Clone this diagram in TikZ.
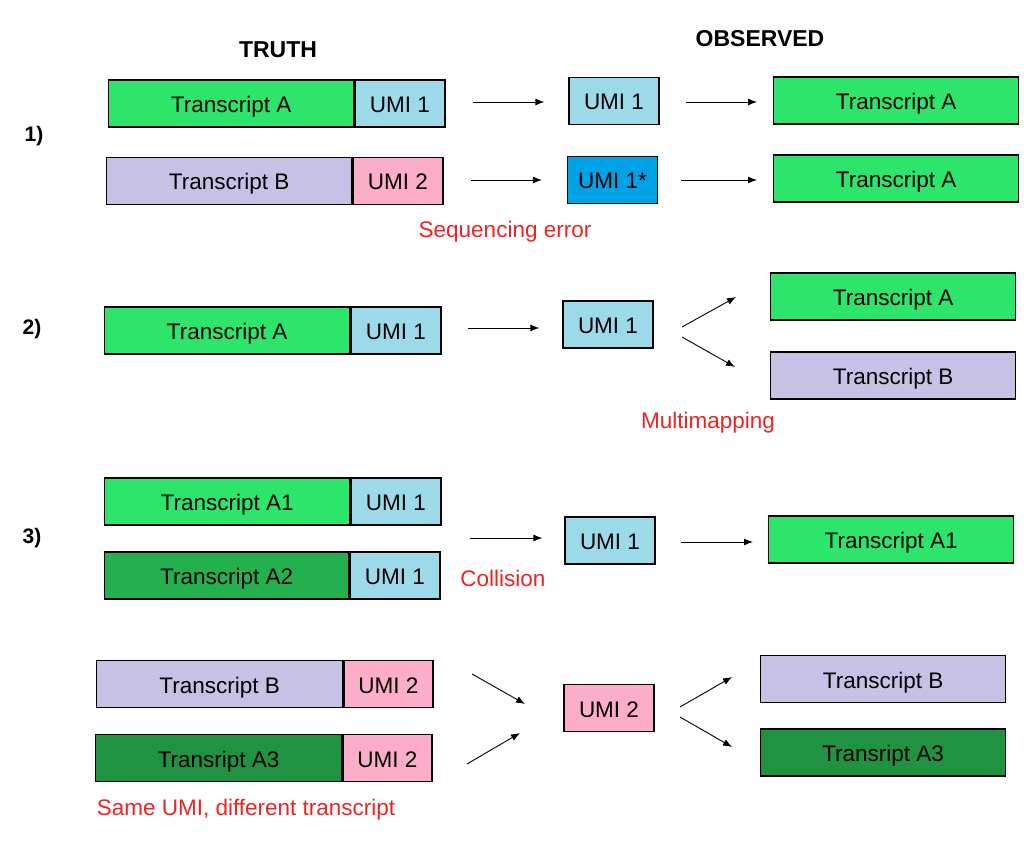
\documentclass[tikz,border=0pt]{standalone}
\usepackage{fontspec}
\setmainfont{Liberation Sans}
\usetikzlibrary{arrows.meta}
\definecolor{tgreen}{HTML}{2DE56A}
\definecolor{tgreenB}{HTML}{24B04E}
\definecolor{tgreenC}{HTML}{1F9342}
\definecolor{umiblue}{HTML}{9DDAE9}
\definecolor{umidark}{HTML}{00A2E6}
\definecolor{lav}{HTML}{C7C1E6}
\definecolor{upink}{HTML}{FBADC9}
\definecolor{lblred}{HTML}{EE2222}
\tikzset{
  box/.style={draw=black, line width=1.3pt, inner sep=0pt, minimum height=47pt,
    text height=18pt, text depth=0pt, font=\fontsize{22.5}{26}\selectfont},
  tbox/.style={box, minimum width=245pt},
  ubox/.style={box, minimum width=90pt},
  arr/.style={line width=0.9pt, -{Latex[length=9pt,width=7pt]}},
  redlbl/.style={text=lblred, font=\fontsize{22.5}{26}\selectfont, inner sep=0pt},
  head/.style={font=\bfseries\fontsize{23}{26}\selectfont, inner sep=0pt},
  num/.style={font=\bfseries\fontsize{21}{24}\selectfont, inner sep=0pt}
}
\begin{document}
\begin{tikzpicture}[x=1pt,y=-1pt]
\useasboundingbox (0,0) rectangle (1034,842);
% headings
\node[head] (truth) at (278,50) {TRUTH};
\node[head] (obs) at (760,39) {OBSERVED};
\node[num] (n1) at (34,136) {1)};
\node[num] (n2) at (32,329) {2)};
\node[num] (n3) at (32,538) {3)};

% ---------- Row 1 ----------
\node[tbox, fill=tgreen, anchor=west] (r1t) at (108,103.5) {Transcript A};
\node[ubox, fill=umiblue, anchor=west] (r1u) at (r1t.east) {UMI 1};
\node[ubox, fill=umiblue] (r1o) at (614,101) {UMI 1};
\node[tbox, fill=tgreen, anchor=west] (r1r) at (773,100.5) {Transcript A};
\draw[arr, shorten <=27pt, shorten >=24pt] (r1u.east |- 0,102) -- (r1o.west |- 0,102);
\draw[arr, shorten <=26pt, shorten >=16pt] (r1o.east |- 0,102) -- (r1r.west |- 0,102);

\node[tbox, fill=lav, anchor=west] (r1bt) at (106,181) {Transcript B};
\node[ubox, fill=upink, anchor=west] (r1bu) at (r1bt.east) {UMI 2};
\node[ubox, fill=umidark] (r1bo) at (612.5,180) {UMI 1*};
\node[tbox, fill=tgreen, anchor=west] (r1br) at (773,178.5) {Transcript A};
\draw[arr, shorten <=27pt, shorten >=25pt] (r1bu.east |- 0,180) -- (r1bo.west |- 0,180);
\draw[arr, shorten <=23pt, shorten >=16pt] (r1bo.east |- 0,180) -- (r1br.west |- 0,180);
\node[redlbl] (seqerr) at (505,232) {Sequencing error};

% ---------- Row 2 ----------
\node[tbox, fill=tgreen, anchor=west] (r2t) at (104,330.5) {Transcript A};
\node[ubox, fill=umiblue, anchor=west] (r2u) at (r2t.east) {UMI 1};
\node[ubox, fill=umiblue] (r2o) at (608,324.5) {UMI 1};
\node[tbox, fill=tgreen, anchor=west] (r2a) at (770,296.5) {Transcript A};
\node[tbox, fill=lav, anchor=west] (r2b) at (770,375.5) {Transcript B};
\draw[arr, shorten <=26pt, shorten >=23pt] (r2u.east |- 0,328) -- (r2o.west |- 0,328);
\coordinate (m1s) at (682,327);
\coordinate (m1e) at (736,297);
\coordinate (m2s) at (682,337);
\coordinate (m2e) at (735,367);
\draw[arr] (m1s) -- (m1e);
\draw[arr] (m2s) -- (m2e);
\node[redlbl] (multi) at (708,423) {Multimapping};

% ---------- Row 3 ----------
\node[tbox, fill=tgreen, anchor=west] (r3t) at (104,501.5) {Transcript A1};
\node[ubox, fill=umiblue, anchor=west] (r3u) at (r3t.east) {UMI 1};
\node[tbox, fill=tgreenB, anchor=west, minimum width=244pt] (r3bt) at (104,575.5) {Transcript A2};
\node[ubox, fill=umiblue, anchor=west] (r3bu) at (r3bt.east) {UMI 1};
\node[ubox, fill=umiblue] (r3o) at (610,540.5) {UMI 1};
\node[tbox, fill=tgreen, anchor=west] (r3r) at (768,539.5) {Transcript A1};
\coordinate (c3s) at (470,538);
\draw[arr, shorten >=22pt] (c3s) -- (r3o.west |- 0,538);
\draw[arr, shorten <=25pt, shorten >=15pt] (r3o.east |- 0,542) -- (r3r.west |- 0,542);
\node[redlbl] (coll) at (503,578) {Collision};

% ---------- Row 4 ----------
\node[tbox, fill=lav, anchor=west, minimum width=246pt] (r4t) at (96,684) {Transcript B};
\node[ubox, fill=upink, anchor=west, minimum width=89pt] (r4u) at (r4t.east) {UMI 2};
\node[tbox, fill=tgreenC, anchor=west, minimum width=246pt] (r4bt) at (95,758) {Transript A3};
\node[ubox, fill=upink, anchor=west, minimum width=89pt] (r4bu) at (r4bt.east) {UMI 2};
\node[ubox, fill=upink] (r4o) at (609,708) {UMI 2};
\node[tbox, fill=lav, anchor=west] (r4a) at (760,679) {Transcript B};
\node[tbox, fill=tgreenC, anchor=west] (r4b) at (760,752.5) {Transript A3};
\coordinate (s1s) at (472,674);
\coordinate (s1e) at (525,704);
\coordinate (s2s) at (467,764);
\coordinate (s2e) at (520,733);
\draw[arr] (s1s) -- (s1e);
\draw[arr] (s2s) -- (s2e);
\coordinate (d1s) at (680,707);
\coordinate (d1e) at (732,677);
\coordinate (d2s) at (680,717);
\coordinate (d2e) at (732,747);
\draw[arr] (d1s) -- (d1e);
\draw[arr] (d2s) -- (d2e);
\node[redlbl] (same) at (246,810) {Same UMI, different transcript};
\end{tikzpicture}
\end{document}
